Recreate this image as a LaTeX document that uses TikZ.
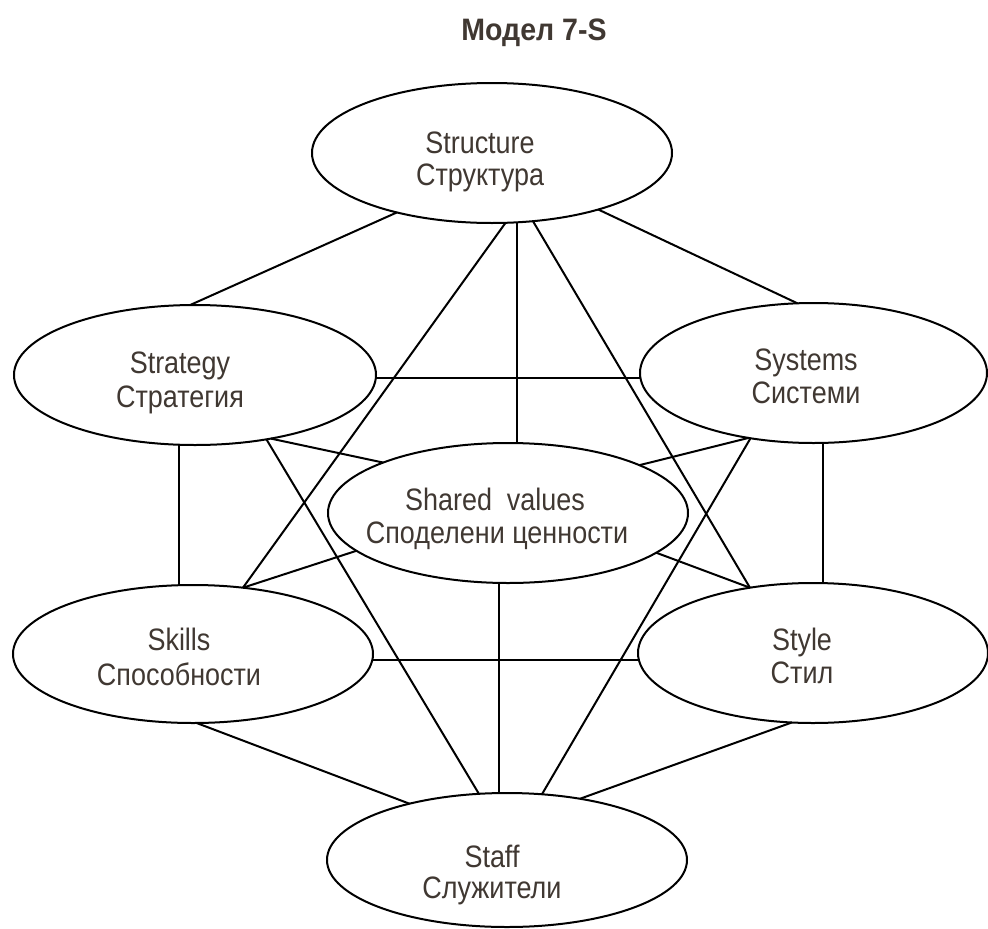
\documentclass[tikz,border=0pt]{standalone}
\usepackage{fontspec}
\setmainfont{Liberation Sans}[FakeStretch=0.87]
\newfontfamily\titlefont{Liberation Sans}[FakeStretch=0.92]
\usetikzlibrary{shapes.geometric}
\definecolor{txt}{RGB}{64,56,50}
\begin{document}
\begin{tikzpicture}[x=1pt,y=-1pt,
  ell/.style={draw, line width=2pt, ellipse, inner sep=0pt, outer sep=0pt, fill=white},
  lbl/.style={anchor=base, inner sep=0pt, text=txt, font=\fontsize{31}{33}\selectfont},
  conn/.style={line width=2pt}]
\useasboundingbox (0,0) rectangle (988,929);
\fill[white] (0,0) rectangle (988,929);

\node[anchor=base, inner sep=0pt, text=txt, font=\titlefont\bfseries\fontsize{31}{33}\selectfont] (title) at (534,40) {Модел 7-S};

\node[ell, minimum width=360pt, minimum height=140pt] (structure) at (492,153) {};
\node[ell, minimum width=362pt, minimum height=140pt] (strategy) at (195,375) {};
\node[ell, minimum width=347pt, minimum height=140pt] (systems) at (813.5,373) {};
\node[ell, minimum width=360pt, minimum height=140pt] (shared) at (508,513) {};
\node[ell, minimum width=360pt, minimum height=138pt] (skills) at (193,654) {};
\node[ell, minimum width=350pt, minimum height=140pt] (style) at (813,653) {};
\node[ell, minimum width=360pt, minimum height=134pt] (staff) at (507,860) {};

\node[lbl] (structureA) at (480,153) {Structure};
\node[lbl] (structureB) at (480,185) {Структура};
\node[lbl] (strategyA) at (180,373) {Strategy};
\node[lbl] (strategyB) at (180,407) {Стратегия};
\node[lbl] (systemsA) at (806,370) {Systems};
\node[lbl] (systemsB) at (806,403) {Системи};
\node[lbl] (sharedA) at (495,510) {Shared\ \ values};
\node[lbl] (sharedB) at (497,543) {Споделени ценности};
\node[lbl] (skillsA) at (179,650) {Skills};
\node[lbl] (skillsB) at (179,685) {Способности};
\node[lbl] (styleA) at (802,650) {Style};
\node[lbl] (styleB) at (802,683) {Стил};
\node[lbl] (staffA) at (492,867) {Staff};
\node[lbl] (staffB) at (492,898) {Служители};

\draw[conn] (structure.212) -- (strategy.94);
\draw[conn] (structure.332) -- (systems.103);
\draw[conn] (structure.290) -- (structure.290 |- shared.north);
\draw[conn] (structure.281) -- (skills.53);
\draw[conn] (structure.301) -- (style.134);
\draw[conn] (strategy.359) -- (strategy.359 -| systems.west);
\draw[conn] (strategy.257) -- (strategy.257 |- skills.north);
\draw[conn] (strategy.320) -- (shared.158);
\draw[conn] (strategy.318) -- (staff.113);
\draw[conn] (systems.225) -- (shared.20);
\draw[conn] (systems.226) -- (staff.62);
\draw[conn] (systems.278) -- (systems.278 |- style.north);
\draw[conn] (shared.194) -- (skills.53);
\draw[conn] (shared.345) -- (style.134);
\draw[conn] (shared.263) -- (shared.263 |- staff.north);
\draw[conn] (skills.358) -- (skills.358 -| style.west);
\draw[conn] (skills.273) -- (staff.150);
\draw[conn] (style.253) -- (staff.40);
\end{tikzpicture}
\end{document}
